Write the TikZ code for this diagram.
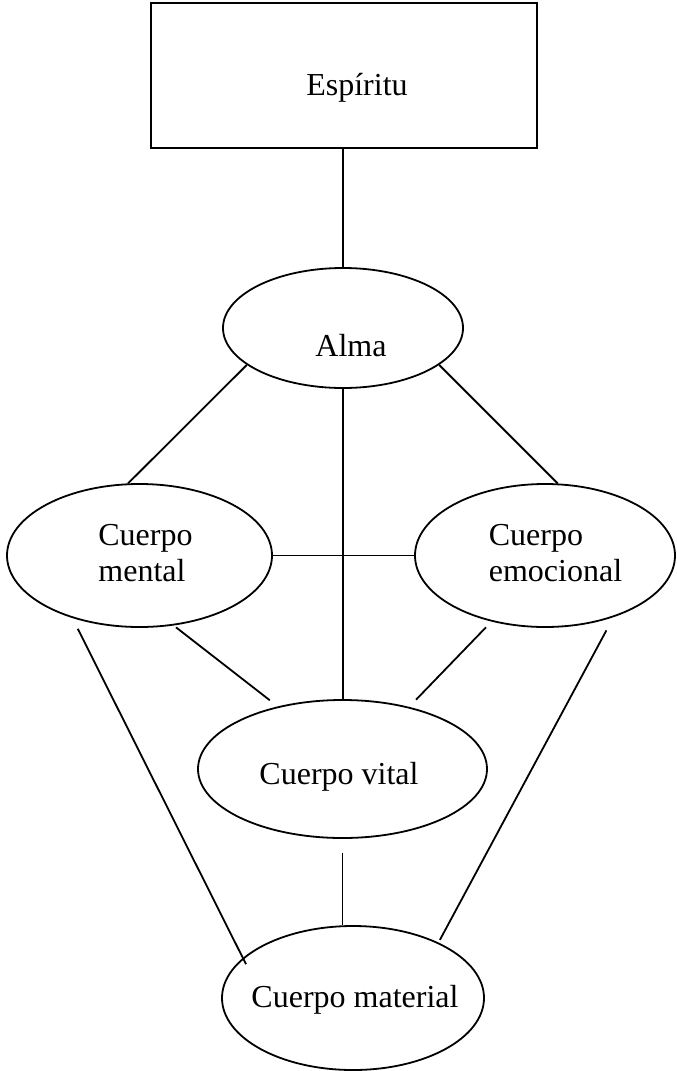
\documentclass[tikz,border=0pt]{standalone}
\usepackage{fontspec}
\setmainfont{Liberation Serif}
\usetikzlibrary{shapes.geometric}

\begin{document}
\begin{tikzpicture}[x=1pt,y=-1pt,line width=1.8pt,
    font=\fontsize{32}{36}\selectfont,
    box/.style={shape=rectangle,draw=black},
    body/.style={shape=ellipse,draw=black}]
    \useasboundingbox (0,0) rectangle (677,1071);

        % Spirit and soul
        \node[box,minimum width=386pt,minimum height=145pt,label={[xshift=13pt,yshift=-12pt]center:Espíritu}] (espiritu) at (344,75.5) {};
        \node[body,minimum width=240pt,minimum height=120pt,label={[xshift=8pt,yshift=-18pt]center:Alma}] (alma) at (343,328) {};

        % Bodies
        \node[body,minimum width=265pt,minimum height=143pt,label={[align=left,xshift=6pt,yshift=2pt]center:Cuerpo\\mental}] (mental) at (139.5,555.5) {};
        \node[body,minimum width=260pt,minimum height=143pt,label={[align=left,xshift=10.5pt,yshift=2pt]center:Cuerpo\\emocional}] (emocional) at (545,555.5) {};
        \node[body,minimum width=289pt,minimum height=138pt,label={[xshift=-3.5pt,yshift=-8pt]center:Cuerpo vital}] (vital) at (342.5,769) {};
        \node[body,minimum width=262pt,minimum height=144pt,label={[xshift=2pt,yshift=-2pt]center:Cuerpo material}] (material) at (353,998) {};

        % Links from the top down
        \path (alma.north |- espiritu.south) edge (alma.north);
        \path (alma.201) edge (mental.99);
        \path (alma.339) edge (emocional.80);
        \path (mental.east) edge (emocional.west);
        \path (alma.south) edge (alma.south |- vital.north);
        \path (mental.-64) edge[shorten <=3pt,shorten >=10pt] (vital.136);
        \path (emocional.231) edge[shorten <=8pt,shorten >=10pt] (vital.43);
        \path (vital.south) edge[shorten <=14pt] (vital.south |- material.north);
        \path (mental.223) edge[shorten <=12pt,shorten >=-7pt] (material.160);
        \path (emocional.318) edge[shorten <=15pt,shorten >=3pt] (material.33);

    \end{tikzpicture}
\end{document}
